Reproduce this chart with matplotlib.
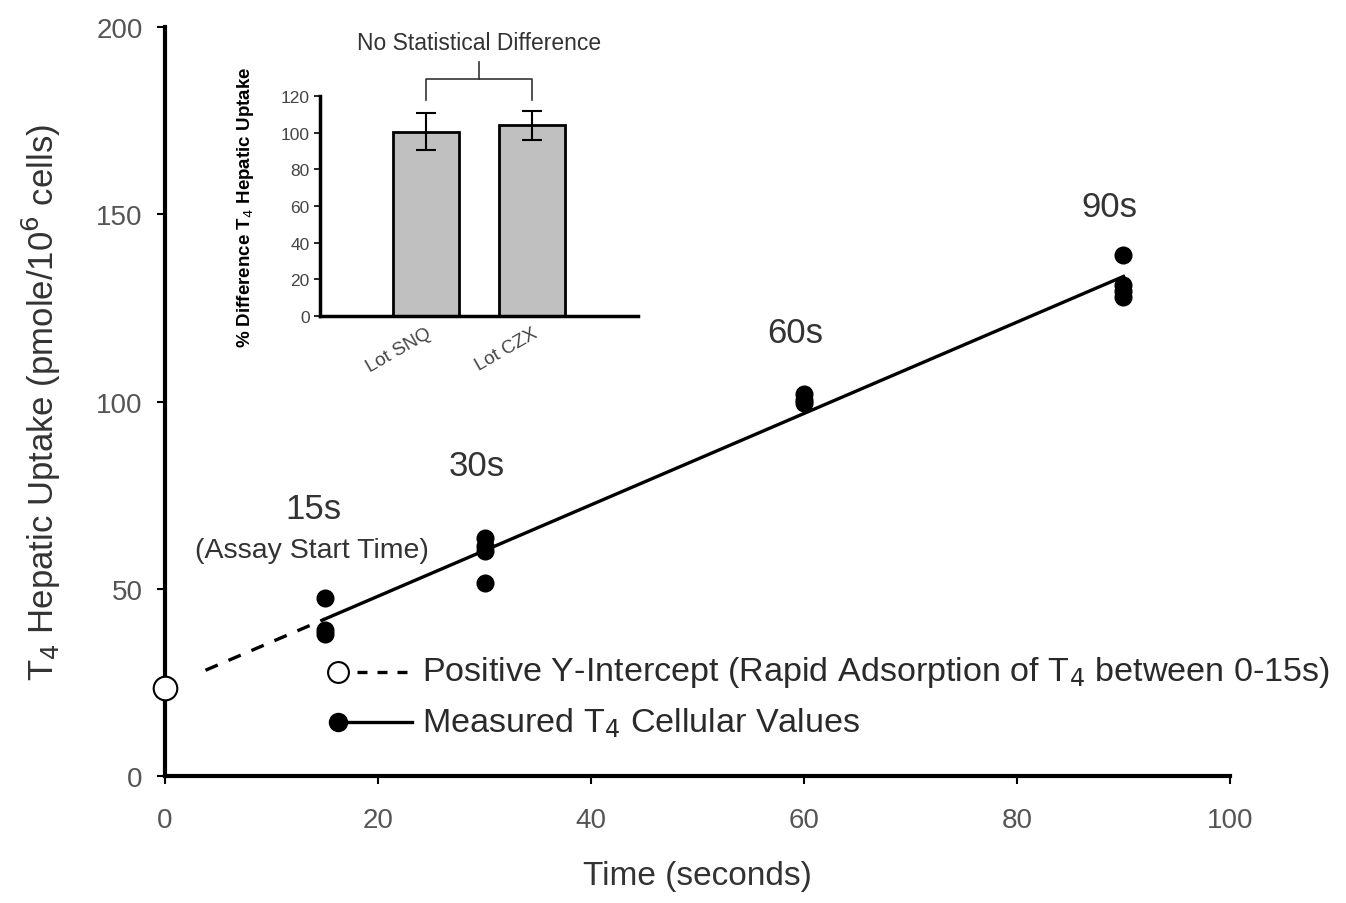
import matplotlib
matplotlib.use("Agg")
import matplotlib.pyplot as plt
import numpy as np

plt.rcParams['font.family'] = ['Liberation Sans', 'DejaVu Sans']

# measured T4 uptake (pmole/10^6 cells)
time_s = [15, 15, 15, 30, 30, 30, 30, 60, 60, 60, 90, 90, 90, 90]
uptake = [47.5, 39, 38, 63.5, 61.5, 60, 51.5, 102, 100.5, 99.5, 139, 131, 129.5, 128]
time_labels = ['15s', '30s', '60s', '90s']
label_x = [13.9, 29.3, 59.2, 88.7]
label_y = [71.5, 83, 118.5, 152]

# inset: % difference between lots
lots = ['Lot SNQ', 'Lot CZX']
pct = [100.5, 104]
pct_err = [10, 8]

slope, intercept = np.polyfit(time_s, uptake, 1)

fig = plt.figure(figsize=(13.46, 9.04), dpi=100)
ax = fig.add_axes([0.1226, 0.1405, 0.7912, 0.8285])

xs = np.array([15, 90])
ax.plot(xs, intercept + slope * xs, '-', color='black', lw=2.4)
xd = np.array([3.8, 15])
ax.plot(xd, intercept + slope * xd, '--', color='black', lw=2.4, dashes=(4, 3.5))
ax.plot(time_s, uptake, 'o', color='black', ms=12)
ax.plot([0], [intercept], 'o', mfc='white', mec='black', mew=1.5, ms=17, clip_on=False, zorder=5)

for t, lx, ly in zip(time_labels, label_x, label_y):
    ax.text(lx, ly, t, ha='center', va='center', fontsize=25, color='#333333')
ax.text(13.8, 60.3, '(Assay Start Time)', ha='center', va='center', fontsize=20.5, color='#333333')

# legend drawn by hand
ax.plot([16.2], [27.8], 'o', mfc='white', mec='black', mew=1.5, ms=15)
ax.plot([18.0, 23.2], [27.8, 27.8], '--', color='black', lw=2.4, dashes=(3, 3))
ax.text(24.1, 27.8, 'Positive Y-Intercept (Rapid Adsorption of T$_4$ between 0-15s)',
        ha='left', va='center', fontsize=24.6, color='#2a2a2a', clip_on=False)
ax.plot([16.2], [14.3], 'o', color='black', ms=13)
ax.plot([16.2, 23.2], [14.3, 14.3], '-', color='black', lw=2.4)
ax.text(24.1, 14.3, 'Measured T$_4$ Cellular Values',
        ha='left', va='center', fontsize=24.6, color='#2a2a2a')

ax.set_xlim(0, 100)
ax.set_ylim(0, 200)
ax.set_xticks(np.arange(0, 101, 20))
ax.set_yticks(np.arange(0, 201, 50))
ax.spines['top'].set_visible(False)
ax.spines['right'].set_visible(False)
ax.spines['left'].set_linewidth(3)
ax.spines['bottom'].set_linewidth(3)
ax.tick_params(direction='out', length=6, width=1.5, labelsize=20, labelcolor='#555555')
ax.tick_params(axis='x', pad=16)
ax.tick_params(axis='y', pad=10)
ax.set_xlabel('Time (seconds)', fontsize=24, color='#333333', labelpad=20)
ax.set_ylabel('T$_4$ Hepatic Uptake (pmole/10$^6$ cells)', fontsize=25, color='#333333', labelpad=24)

# inset bar chart
ax2 = fig.add_axes([0.2377, 0.6493, 0.2363, 0.2434])
xpos = np.arange(len(lots))
ax2.bar(xpos, pct, width=0.62, color='#c0c0c0', edgecolor='black', lw=2)
ax2.errorbar(xpos, pct, yerr=pct_err, fmt='none', ecolor='black', elinewidth=1.5, capsize=7, capthick=1.5)
ax2.set_xlim(-1, 2)
ax2.set_ylim(0, 120)
ax2.set_yticks(np.arange(0, 121, 20))
ax2.set_xticks(xpos)
ax2.set_xticklabels(lots, rotation=30, ha='right', rotation_mode='anchor', fontsize=13.5, color='#444444')
ax2.tick_params(axis='x', length=0, pad=6)
ax2.tick_params(axis='y', direction='out', length=4, width=1.2, labelsize=12.5, labelcolor='#444444')
ax2.spines['top'].set_visible(False)
ax2.spines['right'].set_visible(False)
ax2.spines['left'].set_linewidth(2.5)
ax2.spines['bottom'].set_linewidth(2.5)
ax2.set_ylabel('% Difference T$_4$ Hepatic Uptake', fontsize=13.5, fontweight='bold', labelpad=18)
ax2.patch.set_alpha(0)

# significance bracket
ax2.plot([0, 0, 1, 1], [118, 129, 129, 118], color='#333333', lw=1.2, clip_on=False)
ax2.plot([0.5, 0.5], [129, 138.5], color='#333333', lw=1.2, clip_on=False)
ax2.text(0.5, 149, 'No Statistical Difference', ha='center', va='center', fontsize=16.5, color='#333333')

fig.savefig('out.png', dpi=100)
